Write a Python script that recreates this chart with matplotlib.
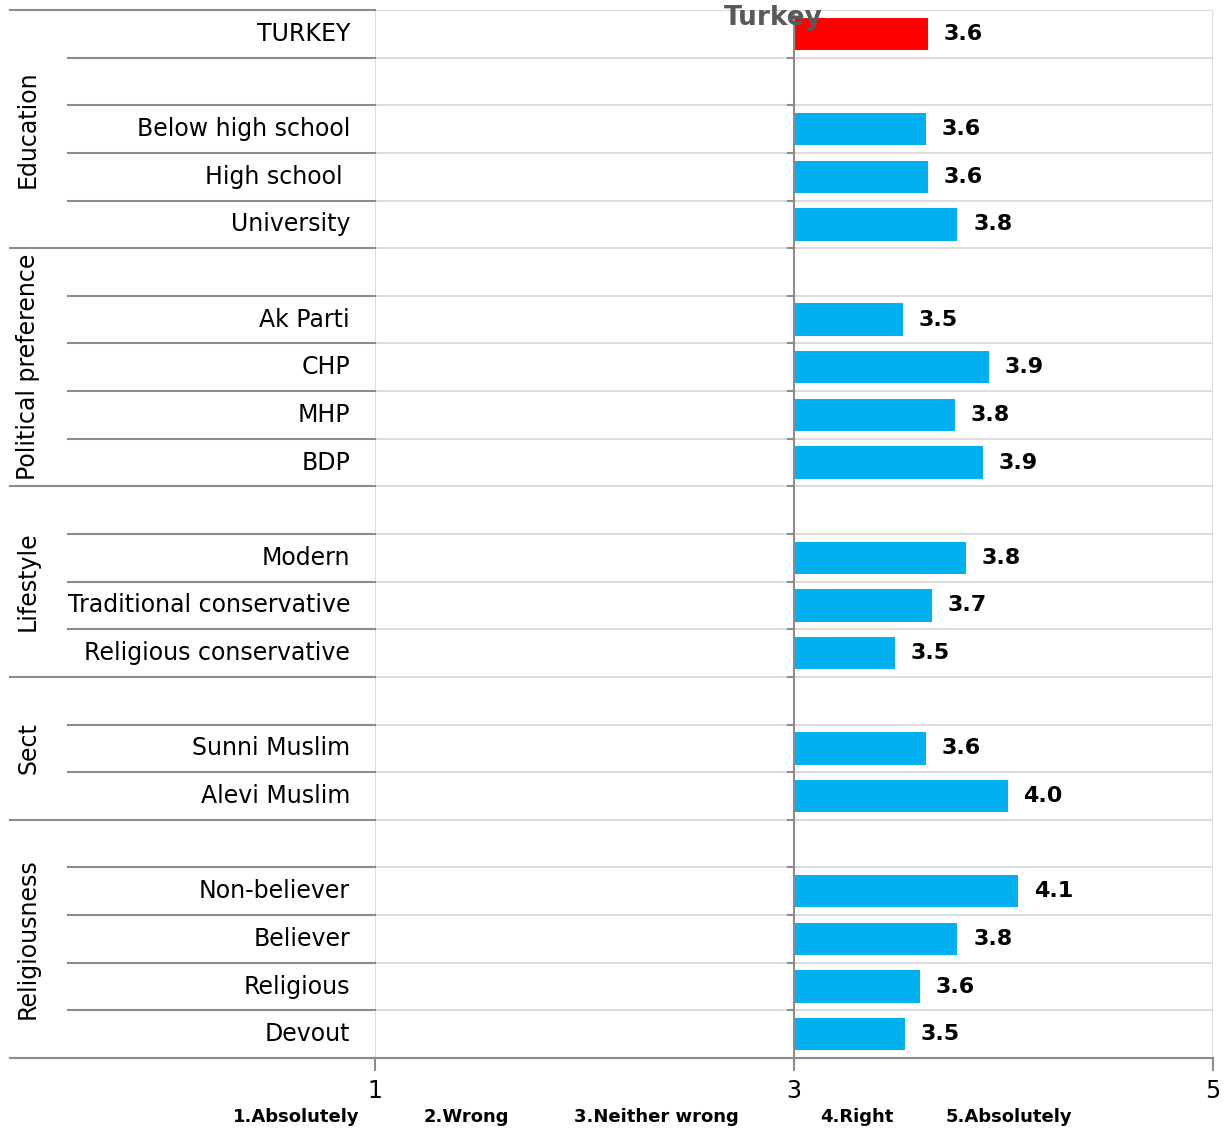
import matplotlib.pyplot as plt
from matplotlib.transforms import blended_transform_factory

# rows from top to bottom; None marks a blank spacer row
row_labels = ["TURKEY", "", "Below high school", "High school ", "University",
              "", "Ak Parti", "CHP", "MHP", "BDP",
              "", "Modern", "Traditional conservative", "Religious conservative",
              "", "Sunni Muslim", "Alevi Muslim",
              "", "Non-believer", "Believer", "Religious", "Devout"]
values = [3.64, None, 3.63, 3.64, 3.78,
          None, 3.52, 3.93, 3.77, 3.90,
          None, 3.82, 3.66, 3.48,
          None, 3.63, 4.02,
          None, 4.07, 3.78, 3.60, 3.53]
# group name, first row, last row (inclusive)
groups = [("Education", 0, 4), ("Political preference", 5, 9), ("Lifestyle", 10, 13),
          ("Sect", 14, 16), ("Religiousness", 17, 21)]
scale_labels = ["1.Absolutely", "2.Wrong", "3.Neither wrong", "4.Right", "5.Absolutely"]
scale_x = [296, 466, 656, 857, 1009]  # pixel centres of the scale captions

W, H = 1228, 1131
fig = plt.figure(figsize=(W / 100, H / 100), dpi=100)
ax = fig.add_axes([375 / W, 1 - 1058 / H, (1213 - 375) / W, (1058 - 10) / H])

n = len(row_labels)
ys = list(range(n))
ax.set_ylim(n - 0.5, -0.5)
ax.set_xlim(1, 5)

blue = "#00b0f0"
for y, v in zip(ys, values):
    if v is None:
        continue
    color = "#ff0000" if y == 0 else blue
    ax.barh(y, v - 3, left=3, height=0.68, color=color, zorder=3)
    ax.text(v + 0.075, y, f"{v:.1f}", va="center", ha="left", fontsize=16,
            fontweight="heavy", family="DejaVu Sans", color="black", zorder=4)

# grid
for b in range(n + 1):
    ax.axhline(b - 0.5, color="#d9d9d9", lw=1.3, zorder=1)
for xv in (1, 5):
    ax.axvline(xv, color="#d9d9d9", lw=1.3, zorder=1)
ax.axvline(3, color="#8c8c8c", lw=1.5, zorder=4)

for s in ax.spines.values():
    s.set_visible(False)
ax.set_yticks([])
ax.set_xticks([1, 3, 5])
ax.set_xticklabels(["1", "3", "5"], fontsize=17, family="DejaVu Sans")
ax.tick_params(axis="x", length=0, pad=15)

# left table lines and labels
tr = blended_transform_factory(ax.transAxes, ax.transData)
x_outer = (10 - 375) / (1213 - 375)
x_inner = (68 - 375) / (1213 - 375)
group_edges = {g[1] - 0.5 for g in groups} | {n - 0.5}
for b in range(n + 1):
    yb = b - 0.5
    x0 = x_outer if (yb in group_edges or b == 0) else x_inner
    ax.plot([x0, 0], [yb, yb], transform=tr, color="#8c8c8c", lw=1.5,
            clip_on=False, zorder=5)
# bottom axis line with ticks
ax.plot([x_outer, 1], [n - 0.5, n - 0.5], transform=tr, color="#8c8c8c", lw=1.5,
        clip_on=False, zorder=5)
for xv in (1, 3, 5):
    ax.plot([xv, xv], [n - 0.5, n - 0.25], color="#8c8c8c", lw=1.5, clip_on=False, zorder=5)
for b in range(1, n):
    ax.plot([2.97, 3], [b - 0.5, b - 0.5], color="#8c8c8c", lw=1.5, zorder=5)

x_lab = (350 - 375) / (1213 - 375)
for y, lab in zip(ys, row_labels):
    if lab:
        ax.text(x_lab, y, lab, transform=tr, ha="right", va="center",
                fontsize=17, family="DejaVu Sans", color="black")

x_grp = (28 - 375) / (1213 - 375)
for name, a, b in groups:
    ax.text(x_grp, (a + b) / 2, name, transform=tr, rotation=90,
            ha="center", va="center", fontsize=17, family="DejaVu Sans")

fig.text(773 / W, 1 - 18 / H, "Turkey", ha="center", va="center", fontsize=19,
         fontweight="heavy", color="#595959", family="DejaVu Sans", zorder=10)

for lab, xp in zip(scale_labels, scale_x):
    fig.text(xp / W, 1 - 1117 / H, lab, ha="center", va="center", fontsize=13,
             fontweight="bold", family="DejaVu Sans", color="black")

fig.savefig("out.png", dpi=100)
